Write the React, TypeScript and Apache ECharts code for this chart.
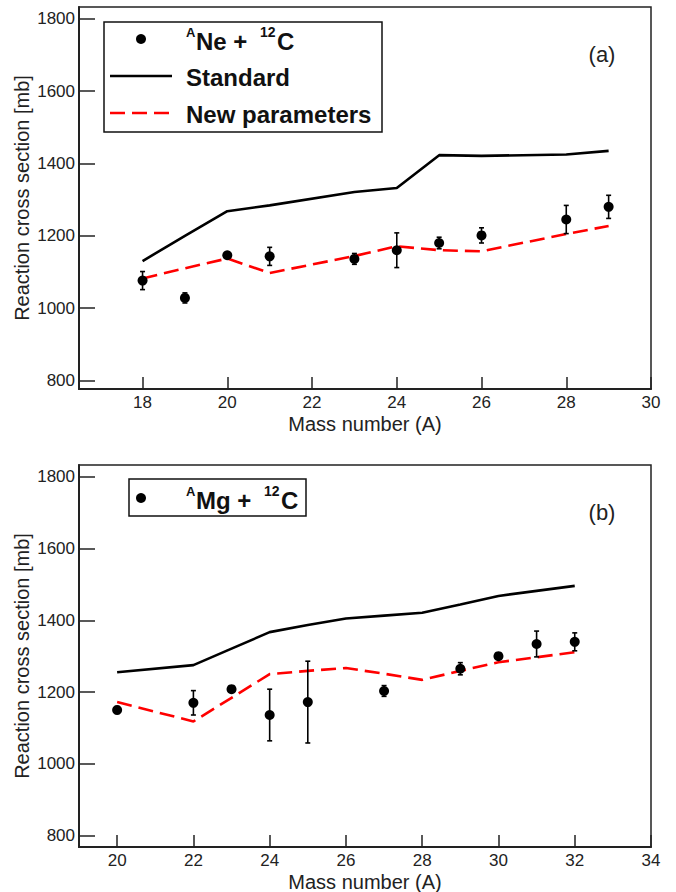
import React, { useEffect, useRef } from "react";
import * as echarts from "echarts";

// Panel (a): ANe + 12C
const neA = [18, 19, 20, 21, 23, 24, 25, 26, 28, 29];
const neExp = [1076, 1028, 1146, 1143, 1136, 1160, 1180, 1201, 1245, 1280];
const neErr = [25, 14, 8, 25, 15, 48, 16, 21, 39, 32];
const neStd = [1130, 1200, 1268, 1284, 1321, 1332, 1423, 1421, 1425, 1435];
const neNew = [1082, 1110, 1137, 1097, 1144, 1171, 1160, 1157, 1205, 1227];

// Panel (b): AMg + 12C
const mgA = [20, 22, 23, 24, 25, 27, 29, 30, 31, 32];
const mgExp = [1150, 1170, 1208, 1136, 1172, 1203, 1265, 1300, 1334, 1340];
const mgErr = [10, 34, 5, 72, 114, 15, 17, 5, 36, 25];
const mgLineA = [20, 22, 23, 24, 25, 26, 27, 28, 29, 30, 31, 32];
const mgStd = [1255, 1275, 1321, 1367, 1387, 1405, 1413, 1421, 1444, 1468, 1482, 1496];
const mgNew = [1172, 1118, 1184, 1250, 1259, 1267, 1251, 1234, 1259, 1283, 1297, 1311];

const xTicksA = [18, 20, 22, 24, 26, 28, 30];
const xTicksB = [20, 22, 24, 26, 28, 30, 32, 34];
const yTicks = [800, 1000, 1200, 1400, 1600, 1800];

const FONT = "'Liberation Sans', Arial, Helvetica, sans-serif";
const INK = "#222";

const zip = (xs: number[], ...cols: number[][]) => xs.map((x, i) => [x, ...cols.map((c) => c[i])]);

function errorRender(params: any, api: any) {
  const x = api.value(0);
  const y = api.value(1);
  const e = api.value(2);
  const top = api.coord([x, y + e]);
  const bot = api.coord([x, y - e]);
  const cap = 2.5;
  const st = { stroke: "#000", lineWidth: 1.6 };
  return {
    type: "group",
    children: [
      { type: "line", shape: { x1: top[0], y1: top[1], x2: bot[0], y2: bot[1] }, style: st },
      { type: "line", shape: { x1: top[0] - cap, y1: top[1], x2: top[0] + cap, y2: top[1] }, style: st },
      { type: "line", shape: { x1: bot[0] - cap, y1: bot[1], x2: bot[0] + cap, y2: bot[1] }, style: st },
    ],
  };
}

function xAxis(gridIndex: number, min: number, max: number, ticks: number[]) {
  return {
    type: "value",
    gridIndex,
    min,
    max,
    name: "Mass number (A)",
    nameLocation: "middle",
    nameGap: 25,
    nameMoveOverlap: false,
    nameTextStyle: { fontFamily: FONT, fontSize: 20, color: INK },
    axisLine: { show: true, onZero: false, lineStyle: { color: INK, width: 2 } },
    axisTick: { show: true, inside: true, length: 12, customValues: ticks, lineStyle: { color: INK, width: 1.5 } },
    axisLabel: { customValues: ticks, margin: 5, fontFamily: FONT, fontSize: 17, color: INK, formatter: (v: number) => String(v) },
    splitLine: { show: false },
  };
}

function yAxis(gridIndex: number, min: number, max: number) {
  return {
    type: "value",
    gridIndex,
    min,
    max,
    name: "Reaction cross section [mb]",
    nameLocation: "middle",
    nameGap: 47,
    nameMoveOverlap: false,
    nameTextStyle: { fontFamily: FONT, fontSize: 20, color: INK },
    axisLine: { show: true, onZero: false, lineStyle: { color: INK, width: 2 } },
    axisTick: { show: true, inside: true, length: 16, customValues: yTicks, lineStyle: { color: INK, width: 1.5 } },
    axisLabel: { customValues: yTicks, margin: 4, fontFamily: FONT, fontSize: 17, color: INK, formatter: (v: number) => String(v) },
    splitLine: { show: false },
  };
}

function seriesFor(idx: number, pts: number[][], std: number[][], nw: number[][]) {
  return [
    {
      type: "line",
      xAxisIndex: idx,
      yAxisIndex: idx,
      data: std,
      showSymbol: false,
      symbol: "none",
      lineStyle: { color: "#000", width: 2.6 },
      z: 2,
    },
    {
      type: "line",
      xAxisIndex: idx,
      yAxisIndex: idx,
      data: nw,
      showSymbol: false,
      symbol: "none",
      lineStyle: { color: "#ff0000", width: 2.6, type: [15, 7] },
      z: 3,
    },
    {
      type: "custom",
      xAxisIndex: idx,
      yAxisIndex: idx,
      data: pts,
      encode: { x: 0, y: 1 },
      renderItem: errorRender,
      z: 4,
    },
    {
      type: "scatter",
      xAxisIndex: idx,
      yAxisIndex: idx,
      data: pts.map((p) => [p[0], p[1]]),
      symbol: "circle",
      symbolSize: 10,
      itemStyle: { color: "#000", opacity: 1 },
      z: 5,
    },
  ];
}

const boldFont = (s: number) => `bold ${s}px ${FONT}`;

function txt(x: number, y: number, text: string, font: string, extra: any = {}) {
  return {
    type: "text",
    x,
    y,
    z: 20,
    style: { text, font, fill: "#111", textAlign: "left", textVerticalAlign: "middle", ...extra },
  };
}

export default function App() {
  const ref = useRef<HTMLDivElement>(null);
  useEffect(() => {
    if (!ref.current) return;
    const chart = echarts.init(ref.current, undefined, { renderer: "svg" });
    const gridBase = { left: 79, width: 572, height: 382, show: true, borderColor: INK, borderWidth: 1.5, backgroundColor: "transparent", containLabel: false, outerBoundsMode: "none" };
    const option: any = {
      animation: false,
      backgroundColor: "#fff",
      grid: [
        { ...gridBase, top: 7 },
        { ...gridBase, top: 465 },
      ],
      xAxis: [xAxis(0, 16.5, 30, xTicksA), xAxis(1, 19, 34, xTicksB)],
      yAxis: [yAxis(0, 776, 1833), yAxis(1, 768, 1833)],
      series: [
        ...seriesFor(0, zip(neA, neExp, neErr), zip(neA, neStd), zip(neA, neNew)),
        ...seriesFor(1, zip(mgA, mgExp, mgErr), zip(mgLineA, mgStd), zip(mgLineA, mgNew)),
      ],
      graphic: [
        // Legend (a)
        { type: "rect", z: 19, shape: { x: 104, y: 22, width: 278, height: 110 }, style: { fill: "#fff", stroke: "#111", lineWidth: 1.5 } },
        { type: "circle", z: 20, shape: { cx: 141, cy: 39, r: 5 }, style: { fill: "#000" } },
        txt(186, 32, "A", boldFont(13)),
        txt(196, 41, "Ne +", boldFont(24)),
        txt(260, 32, "12", boldFont(14)),
        txt(277, 41, "C", boldFont(24)),
        { type: "line", z: 20, shape: { x1: 110, y1: 76, x2: 172, y2: 76 }, style: { stroke: "#000", lineWidth: 2.6 } },
        txt(186, 77, "Standard", boldFont(24)),
        { type: "line", z: 20, shape: { x1: 110, y1: 113, x2: 172, y2: 113 }, style: { stroke: "#ff0000", lineWidth: 2.6, lineDash: [15, 7] } },
        txt(186, 114, "New parameters", boldFont(24)),
        txt(602, 54, "(a)", `22px ${FONT}`, { textAlign: "center", fill: INK }),
        // Legend (b)
        { type: "rect", z: 19, shape: { x: 129, y: 479, width: 177, height: 37 }, style: { fill: "#fff", stroke: "#111", lineWidth: 1.5 } },
        { type: "circle", z: 20, shape: { cx: 141, cy: 498, r: 5 }, style: { fill: "#000" } },
        txt(186, 491, "A", boldFont(13)),
        txt(196, 500, "Mg +", boldFont(24)),
        txt(264, 491, "12", boldFont(14)),
        txt(281, 500, "C", boldFont(24)),
        txt(602, 512, "(b)", `22px ${FONT}`, { textAlign: "center", fill: INK }),
      ],
    };
    chart.setOption(option);
    return () => chart.dispose();
  }, []);
  return <div ref={ref} style={{ position: "fixed", left: 0, top: 0, width: 676, height: 892 }} />;
}
